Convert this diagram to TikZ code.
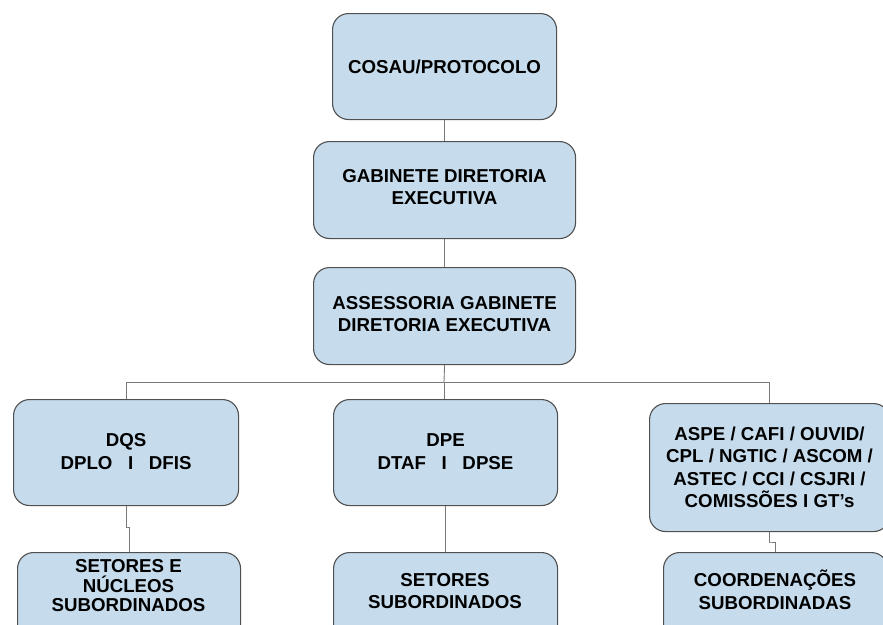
\documentclass[tikz,border=0pt]{standalone}
\usepackage{fontspec}
\setmainfont{Liberation Sans}
\begin{document}
\begin{tikzpicture}[x=1pt,y=-1pt,
  box/.style={draw=boxline, fill=boxfill, line width=1.1pt, rounded corners=16pt, inner sep=0pt, anchor=north west},
  txt/.style={align=center, font=\fontsize{18.7}{22.5}\selectfont\bfseries, inner sep=0pt, text=black},
  conn/.style={draw=connline, line width=0.9pt}]
\definecolor{boxfill}{RGB}{198,220,237}
\definecolor{boxline}{RGB}{80,80,80}
\definecolor{connline}{RGB}{120,120,120}
\useasboundingbox (0,0) rectangle (883,624);
\clip (0,0) rectangle (883,624);
% boxes
\node[box, minimum width=224pt, minimum height=106pt] (b1) at (332,13) {};
\node[box, minimum width=262pt, minimum height=97pt] (b2) at (313,141) {};
\node[box, minimum width=262pt, minimum height=97pt] (b3) at (313,267) {};
\node[box, minimum width=225pt, minimum height=106pt] (dqs) at (13,399) {};
\node[box, minimum width=224pt, minimum height=106pt] (dpe) at (333,399) {};
\node[box, minimum width=240pt, minimum height=128pt] (aspe) at (649,403) {};
\node[box, minimum width=223pt, minimum height=106pt] (s1) at (17,552) {};
\node[box, minimum width=224pt, minimum height=106pt] (s2) at (333,552) {};
\node[box, minimum width=224pt, minimum height=106pt] (s3) at (663,552) {};
% texts
\node[txt] (t1) at (b1.center) {COSAU/PROTOCOLO};
\node[txt] (t2) at ([yshift=3]b2.center) {GABINETE DIRETORIA\\EXECUTIVA};
\node[txt] (t3) at ([yshift=2]b3.center) {ASSESSORIA GABINETE\\DIRETORIA EXECUTIVA};
\node[txt] (tdqs) at ([yshift=1]dqs.center) {DQS\\DPLO~~~I~~~DFIS};
\node[txt] (tdpe) at ([yshift=1]dpe.center) {DPE\\DTAF~~~I~~~DPSE};
\node[txt] (taspe) at (aspe.center) {ASPE / CAFI / OUVID/\\CPL / NGTIC / ASCOM /\\ASTEC / CCI / CSJRI /\\COMISSÕES I GT’s};
\node[txt, font=\fontsize{18.7}{19.5}\selectfont\bfseries] (ts1) at (128.5,586) {SETORES E\\NÚCLEOS\\SUBORDINADOS};
\node[txt] (ts2) at (445,591) {SETORES\\SUBORDINADOS};
\node[txt] (ts3) at (775,590) {COORDENAÇÕES\\SUBORDINADAS};
% connectors
\coordinate (bus) at (444,382);
\coordinate (j1) at (126,527);
\coordinate (j2) at (769,542);
\draw[conn] (b1.south) -- (b2.north);
\draw[conn] (b2.south) -- (b3.north);
\draw[conn] (b3.south) -- (bus);
\draw[conn] (bus) -| (dqs.north);
\draw[conn] (bus) -- (dpe.north -| bus);
\draw[conn] (bus) -| (aspe.north);
\draw[conn] (dqs.south) |- (j1) -| (s1.north);
\draw[conn] (aspe.south) |- (j2) -| (s3.north);
\draw[conn] (dpe.south) -- (s2.north);
\end{tikzpicture}
\end{document}
